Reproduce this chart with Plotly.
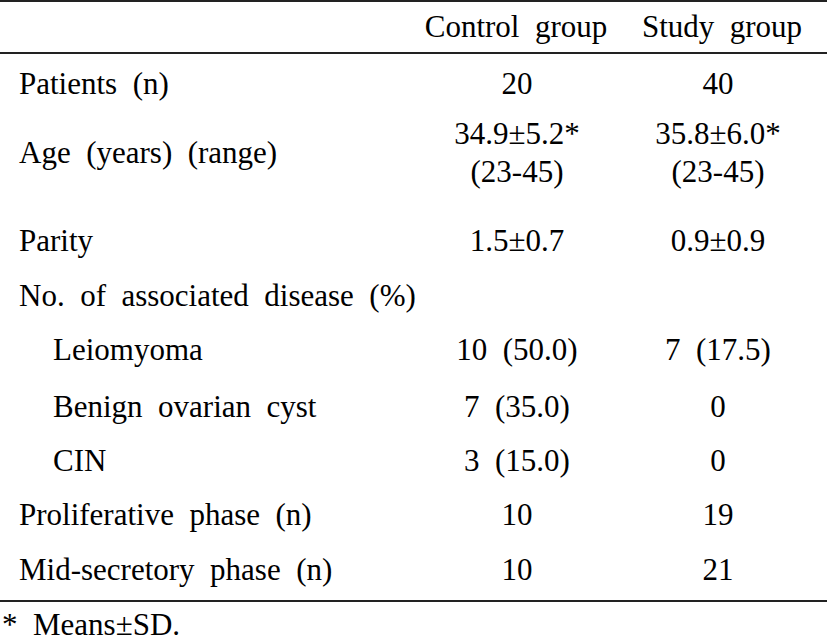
import plotly.graph_objects as go

NB = "\u00a0\u00a0"

col_headers = ["Control group", "Study group"]
row_labels = ["Patients (n)", "Age (years) (range)", "Parity", "No. of associated disease (%)",
              "Leiomyoma", "Benign ovarian cyst", "CIN",
              "Proliferative phase (n)", "Mid-secretory phase (n)"]
indented = [False, False, False, False, True, True, True, False, False]
control_vals = ["20", "34.9±5.2*", "1.5±0.7", "", "10 (50.0)", "7 (35.0)", "3 (15.0)", "10", "10"]
study_vals = ["40", "35.8±6.0*", "0.9±0.9", "", "7 (17.5)", "0", "0", "19", "21"]
age_range = ["(23-45)", "(23-45)"]
footnote = "* Means±SD."

# layout (pixel-like coordinates)
label_y = [86, 155, 243, 298, 352, 409, 463, 517, 572]
value_y = [86, 136, 243, 298, 352, 409, 463, 517, 572]
range_y = 174
header_y = 29
col_x = [517, 718]
header_x = [516, 722]
label_x = 19
indent_x = 53
foot_y = 627
line_y = [1, 53, 601]

def sp(s):
    return s.replace(" ", NB)

FONT = dict(family="Liberation Serif", size=31, color="#000")

fig = go.Figure()
fig.add_trace(go.Scatter(
    x=[indent_x if ind else label_x for ind in indented], y=label_y,
    text=[sp(t) for t in row_labels], mode="text", textposition="middle right",
    textfont=FONT, hoverinfo="skip", showlegend=False))
for cx, vals, rng in [(col_x[0], control_vals, age_range[0]), (col_x[1], study_vals, age_range[1])]:
    fig.add_trace(go.Scatter(
        x=[cx] * (len(vals) + 1), y=value_y + [range_y], text=[sp(t) for t in vals] + [rng],
        mode="text", textposition="middle center", textfont=FONT, hoverinfo="skip", showlegend=False))
fig.add_trace(go.Scatter(
    x=header_x, y=[header_y] * 2, text=[sp(t) for t in col_headers],
    mode="text", textposition="middle center", textfont=FONT, hoverinfo="skip", showlegend=False))
fig.add_trace(go.Scatter(
    x=[2], y=[foot_y], text=[sp(footnote)],
    mode="text", textposition="middle right", textfont=FONT, hoverinfo="skip", showlegend=False))

for ly in line_y:
    fig.add_shape(type="line", xref="x", yref="y", x0=0, x1=827, y0=ly, y1=ly,
                  line=dict(color="#222", width=2))

fig.update_layout(
    width=827, height=642, margin=dict(l=0, r=0, t=0, b=0),
    paper_bgcolor="white", plot_bgcolor="white",
    font=dict(family="Liberation Serif"),
    xaxis=dict(range=[0, 827], visible=False, fixedrange=True),
    yaxis=dict(range=[642, 0], visible=False, fixedrange=True),
)
fig.write_html("out.html", config={"displayModeBar": False},
               post_script="document.body.style.margin='0';document.body.style.padding='0';")
